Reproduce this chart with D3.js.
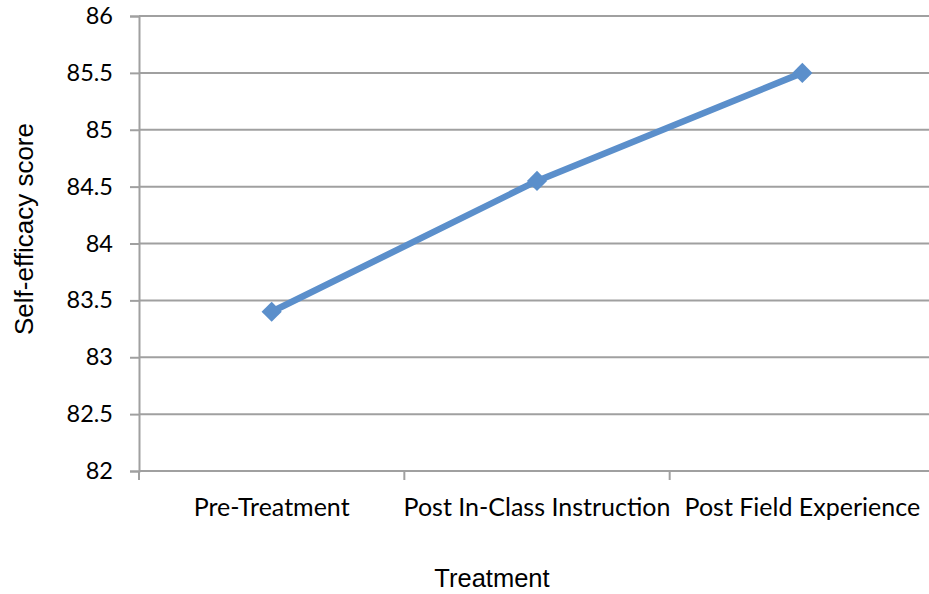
<!DOCTYPE html>
<html>
<head>
<meta charset="utf-8">
<script src="https://cdn.jsdelivr.net/npm/d3@7"></script>
<style>
  html, body { margin: 0; padding: 0; background: #ffffff; }
  svg { display: block; overflow: hidden; }
</style>
</head>
<body>
<svg id="chart" width="929" height="594"></svg>
<script>
// Self-efficacy scores across the three treatment stages
const categories = ["Pre-Treatment", "Post In-Class Instruction", "Post Field Experience"];
const scores = [83.4, 84.55, 85.5];
const yTicks = [82, 82.5, 83, 83.5, 84, 84.5, 85, 85.5, 86];
const yTitle = "Self-efficacy score";
const xTitle = "Treatment";

const svg = d3.select("#chart");

const plot = { left: 139, right: 935, top: 16, bottom: 471 };
const gridColor = "#a0a0a0";
const lineColor = "#5b8fcb";
const labelFont = "Lato, 'Open Sans', sans-serif";
const titleFont = "'Liberation Sans', Arial, sans-serif";

const x = d3.scaleBand()
  .domain(categories)
  .range([plot.left, plot.right])
  .paddingInner(0)
  .paddingOuter(0);

const y = d3.scaleLinear()
  .domain([82, 86])
  .range([plot.bottom, plot.top]);

// horizontal gridlines
svg.append("g")
  .selectAll("line")
  .data(yTicks)
  .join("line")
  .attr("x1", plot.left)
  .attr("x2", plot.right)
  .attr("y1", d => y(d))
  .attr("y2", d => y(d))
  .attr("stroke", gridColor)
  .attr("stroke-width", 2);

// y axis with outward ticks
const yAxis = svg.append("g")
  .attr("transform", `translate(${plot.left},0)`)
  .call(d3.axisLeft(y).tickValues(yTicks).tickSize(9).tickPadding(17)
    .tickFormat(d3.format("")));
yAxis.select(".domain").attr("stroke", gridColor).attr("stroke-width", 2);
yAxis.selectAll(".tick line").attr("stroke", gridColor).attr("stroke-width", 2);
yAxis.selectAll(".tick text")
  .attr("fill", "#000")
  .style("font-family", labelFont)
  .style("font-size", "23.5px");

// x axis: labels at band centres, tick marks at band edges
const xAxis = svg.append("g")
  .attr("transform", `translate(0,${plot.bottom})`)
  .call(d3.axisBottom(x).tickSize(0).tickPadding(27));
xAxis.select(".domain").remove();
xAxis.selectAll(".tick text")
  .attr("fill", "#000")
  .style("font-family", labelFont)
  .style("font-size", "25px");

const edges = categories.map(c => x(c)).concat([x(categories[categories.length - 1]) + x.bandwidth()]);
svg.append("g")
  .selectAll("line")
  .data(edges)
  .join("line")
  .attr("x1", d => d).attr("x2", d => d)
  .attr("y1", plot.bottom).attr("y2", plot.bottom + 9)
  .attr("stroke", gridColor)
  .attr("stroke-width", 2);
svg.append("line")
  .attr("x1", plot.left).attr("x2", plot.right)
  .attr("y1", plot.bottom).attr("y2", plot.bottom)
  .attr("stroke", gridColor).attr("stroke-width", 2);

// data line
const cx = d => x(d) + x.bandwidth() / 2;
const points = categories.map((c, i) => [cx(c), y(scores[i])]);
svg.append("path")
  .datum(points)
  .attr("d", d3.line())
  .attr("fill", "none")
  .attr("stroke", lineColor)
  .attr("stroke-width", 6.5)
  .attr("stroke-linejoin", "round");

// diamond markers
svg.append("g")
  .selectAll("path")
  .data(points)
  .join("path")
  .attr("transform", d => `translate(${d[0]},${d[1]})`)
  .attr("d", d3.symbol().type(d3.symbolDiamond2).size(260))
  .attr("fill", lineColor);

// axis titles
svg.append("text")
  .attr("transform", "translate(33,229) rotate(-90)")
  .attr("text-anchor", "middle")
  .style("font-family", titleFont)
  .style("font-size", "26px")
  .text(yTitle);

svg.append("text")
  .attr("x", 492)
  .attr("y", 587)
  .attr("text-anchor", "middle")
  .style("font-family", titleFont)
  .style("font-size", "25.5px")
  .text(xTitle);
</script>
</body>
</html>
